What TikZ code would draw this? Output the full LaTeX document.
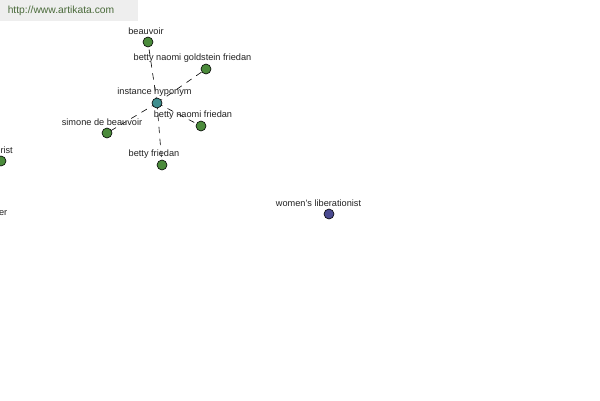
\documentclass[tikz,border=0pt]{standalone}
\usepackage{fontspec}
\setmainfont{Liberation Sans}
\definecolor{leafgreen}{HTML}{4B8B3B}
\definecolor{hubteal}{HTML}{3F8F8F}
\definecolor{termblue}{HTML}{4A4A90}
\definecolor{bannergray}{HTML}{EEEEEE}
\definecolor{bannertext}{HTML}{4A6A3A}
\definecolor{labelgray}{HTML}{222222}
\tikzset{
  dot/.style={circle,draw=black,line width=0.6pt,inner sep=0pt,minimum size=10pt},
  leaf/.style={dot,fill=leafgreen},
  hub/.style={dot,fill=hubteal},
  term/.style={dot,fill=termblue},
  tag/.style={inner sep=0pt,text=labelgray,font=\fontsize{9.2}{10}\selectfont},
  link/.style={dash pattern=on 6pt off 6pt,line width=0.6pt}
}
\begin{document}
\begin{tikzpicture}[x=1pt,y=-1pt,line cap=round,line join=round]

    % frame
    \useasboundingbox (0,0) rectangle (600,400);
    \fill[bannergray] (0,0) rectangle (138,21);
    \node[inner sep=0pt,text=bannertext,font=\fontsize{10.3}{11}\selectfont] (site) at (61,11) {http://www.artikata.com};

    % links
    \coordinate (c) at (157,103);
    \draw[link] (c) -- (148,42);
    \draw[link] (c) -- (206,69);
    \draw[link] (c) -- (201,126);
    \draw[link] (c) -- (107,133);
    \draw[link] (c) -- (162,165);

    % nodes
    \node[hub] (hyponym) at (c) {};
    \node[leaf] (beauvoir) at (148,42) {};
    \node[leaf] (goldstein) at (206,69) {};
    \node[leaf] (naomi) at (201,126) {};
    \node[leaf] (simone) at (107,133) {};
    \node[leaf] (betty) at (162,165) {};
    \node[leaf] (feminist) at (1,161) {};
    \node[term] (liberationist) at (329,214) {};

    % labels
    \node[tag] (lhyponym) at (154.5,92) {instance hyponym};
    \node[tag] (lbeauvoir) at (146,31) {beauvoir};
    \node[tag] (lgoldstein) at (192.5,58) {betty naomi goldstein friedan};
    \node[tag] (lnaomi) at (193,115) {betty naomi friedan};
    \node[tag] (lsimone) at (102,122) {simone de beauvoir};
    \node[tag] (lbetty) at (154,154) {betty friedan};
    \node[tag,anchor=east] (lfeminist) at (13,150) {rist};
    \node[tag,anchor=east] (lwriter) at (7.5,213) {er};
    \node[tag] (lliberationist) at (318.5,203) {women's liberationist};

\end{tikzpicture}
\end{document}
